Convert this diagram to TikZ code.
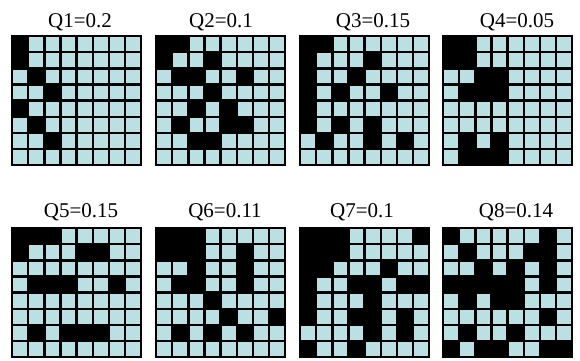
\documentclass[tikz,border=0pt]{standalone}
\usepackage{fontspec}
\setmainfont{Liberation Serif}
\definecolor{cellblue}{RGB}{187,224,228}

\begin{document}
\begin{tikzpicture}[x=1pt,y=-1pt,
    qlabel/.style={anchor=base,font=\fontsize{21}{25}\selectfont,inner sep=0pt}]
  \useasboundingbox (0,0) rectangle (580,360);
  % cell size and grid line width
  \def\C{16.15}\def\LW{2.5pt}
  % helper: \qgrid{left}{top}{black cells as col/row}
  \def\qgrid#1#2#3{%
    \fill[cellblue](#1,#2)rectangle ++(8*\C,8*\C);
    \foreach \c/\r in {#3}{\fill(#1+\c*\C-\C,#2+\r*\C-\C)rectangle ++(\C,\C);}
    \foreach \i in {1,...,7}{
      \draw[line width=\LW](#1+\i*\C,#2)--++(0,8*\C);
      \draw[line width=\LW](#1,#2+\i*\C)--++(8*\C,0);}
    \draw[line width=\LW](#1,#2)rectangle ++(8*\C,8*\C);}

  % top row
  \qgrid{12}{36}{1/1,1/2,2/3,3/4,1/5,2/6,3/7}
  \qgrid{156}{36}{1/1,2/1,1/2,4/2,2/3,3/3,6/3,4/4,3/5,5/5,2/6,5/6,6/6,3/7,4/7}
  \qgrid{300}{36}{1/1,2/1,1/2,5/2,1/3,4/3,1/4,3/4,6/4,1/5,1/6,3/6,5/6,2/7,5/7,7/7}
  \qgrid{443}{36}{1/1,2/1,1/2,2/2,3/3,4/3,2/4,3/4,4/4,2/7,4/7,2/8,3/8,4/8}
  \node[qlabel] (q1) at (80,27) {Q1=0.2};
  \node[qlabel] (q2) at (221,27) {Q2=0.1};
  \node[qlabel] (q3) at (373,27) {Q3=0.15};
  \node[qlabel] (q4) at (517,27) {Q4=0.05};

  % bottom row
  \qgrid{12}{228}{1/1,2/1,3/1,1/2,5/2,6/2,2/4,3/4,4/4,7/4,2/7,4/7,5/7,6/7}
  \qgrid{156}{228}{1/1,2/1,3/1,1/2,2/2,3/2,6/2,3/3,6/3,2/4,3/4,6/4,4/5,5/6,8/6,2/7,4/7,6/7}
  \qgrid{300}{228}{1/1,2/1,3/1,8/1,1/2,2/2,3/2,1/3,2/3,6/3,1/4,4/4,5/4,7/4,8/4,1/5,5/5,1/6,4/6,5/6,7/6,5/7,7/7,1/8,4/8}
  \qgrid{443}{228}{1/1,7/1,2/2,6/2,7/2,3/3,5/3,7/3,1/4,2/4,3/4,4/4,5/4,7/4,2/5,4/5,5/5,7/6,2/7,5/7,1/8,3/8,4/8,7/8,8/8}
  \node[qlabel] (q5) at (81,217) {Q5=0.15};
  \node[qlabel] (q6) at (225,217) {Q6=0.11};
  \node[qlabel] (q7) at (362,217) {Q7=0.1};
  \node[qlabel] (q8) at (516,217) {Q8=0.14};
\end{tikzpicture}
\end{document}
